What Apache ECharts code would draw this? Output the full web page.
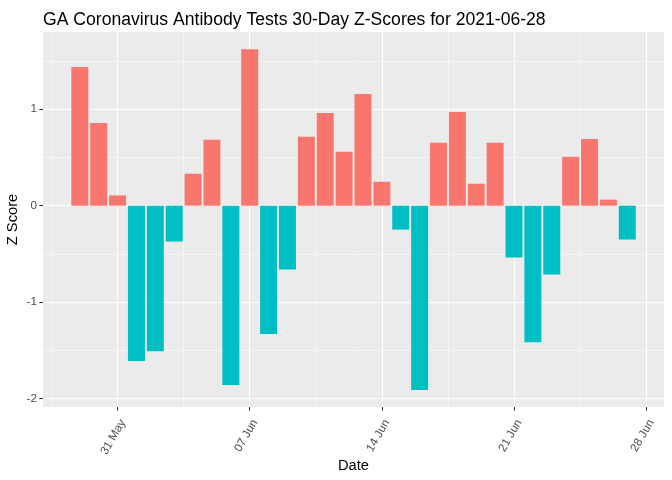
<!DOCTYPE html>
<html>
<head>
<meta charset="utf-8">
<script src="https://cdn.jsdelivr.net/npm/echarts@6/dist/echarts.min.js"></script>
<style>html,body{margin:0;padding:0;background:#fff}#c{width:672px;height:480px}</style>
</head>
<body>
<div id="c"></div>
<script>
const dates = ['2021-05-29','2021-05-30','2021-05-31','2021-06-01','2021-06-02','2021-06-03','2021-06-04','2021-06-05','2021-06-06','2021-06-07','2021-06-08','2021-06-09','2021-06-10','2021-06-11','2021-06-12','2021-06-13','2021-06-14','2021-06-15','2021-06-16','2021-06-17','2021-06-18','2021-06-19','2021-06-20','2021-06-21','2021-06-22','2021-06-23','2021-06-24','2021-06-25','2021-06-26','2021-06-27'];
const zScores = [1.436,0.857,0.106,-1.61,-1.51,-0.372,0.331,0.682,-1.86,1.622,-1.33,-0.661,0.713,0.961,0.558,1.157,0.248,-0.248,-1.911,0.651,0.971,0.227,0.651,-0.537,-1.415,-0.713,0.506,0.692,0.062,-0.351];
const xTickDates = ['2021-05-31','2021-06-07','2021-06-14','2021-06-21','2021-06-28'];
const xMinorDates = ['2021-05-27T12','2021-06-03T12','2021-06-10T12','2021-06-17T12','2021-06-24T12'];
const yTicks = [-2,-1,0,1];
const yMinor = [-1.5,-0.5,0.5,1.5];
const months = ['Jan','Feb','Mar','Apr','May','Jun','Jul','Aug','Sep','Oct','Nov','Dec'];

const DAY = 86400000;
// day number (days since 1970-01-01 UTC)
function dn(s){ const [d,t] = s.split('T'); const [y,m,dd] = d.split('-').map(Number); const h = t ? Number(t) : 0; return (Date.UTC(y,m-1,dd) / DAY) + h/24; }
const xMin = dn('2021-05-27') + 0.05;
const xMax = dn('2021-06-28') + 0.945;
const yMin = -2.087, yMax = 1.8;

const chart = echarts.init(document.getElementById('c'), null, {renderer:'canvas'});
const font = 'Liberation Sans, Arial, sans-serif';
chart.setOption({
  animation: false,
  backgroundColor: '#fff',
  title: {
    text: 'GA Coronavirus Antibody Tests 30-Day Z-Scores for 2021-06-28',
    left: 38, top: 6,
    textStyle: {fontFamily: font, fontSize: 17.6, fontWeight: 'normal', color: '#000'}
  },
  grid: {left: 43, right: 8, top: 32, bottom: 73, show: true, backgroundColor: '#EBEBEB', borderWidth: 0, containLabel: false, outerBoundsMode: 'none'},
  xAxis: [{
    type: 'value', min: xMin, max: xMax, gridIndex: 0,
    axisLine: {show: false, onZero: false},
    axisTick: {show: true, length: 3.7, lineStyle: {color: '#333', width: 1.07}, customValues: xTickDates.map(dn)},
    axisLabel: {
      customValues: xTickDates.map(dn), rotate: 60, margin: 10.5, verticalAlign: 'top', color: '#4D4D4D', fontFamily: font, fontSize: 11.7,
      formatter: v => { const d = new Date(Math.round(v) * DAY); return String(d.getUTCDate()).padStart(2,'0') + ' ' + months[d.getUTCMonth()]; }
    },
    splitLine: {show: true, lineStyle: {color: '#fff', width: 1.07}, customValues: xTickDates.map(dn)},
    name: 'Date', nameLocation: 'middle', nameGap: 51, nameMoveOverlap: false,
    nameTextStyle: {fontFamily: font, fontSize: 14.7, color: '#000'}
  }, {
    type: 'value', min: xMin, max: xMax, gridIndex: 0, position: 'bottom',
    axisLine: {show: false, onZero: false},
    axisTick: {show: false, customValues: xMinorDates.map(dn)},
    axisLabel: {show: false, customValues: xMinorDates.map(dn)},
    splitLine: {show: true, lineStyle: {color: '#fff', width: 0.53}, customValues: xMinorDates.map(dn)}
  }],
  yAxis: [{
    type: 'value', min: yMin, max: yMax, gridIndex: 0,
    axisLine: {show: false, onZero: false},
    axisTick: {show: true, length: 3.7, lineStyle: {color: '#333', width: 1.07}, customValues: yTicks},
    axisLabel: {customValues: yTicks, margin: 6, color: '#4D4D4D', fontFamily: font, fontSize: 11.7},
    splitLine: {show: true, lineStyle: {color: '#fff', width: 1.07}, customValues: yTicks},
    name: 'Z Score', nameLocation: 'middle', nameGap: 23, nameRotate: 90, nameMoveOverlap: false,
    nameTextStyle: {fontFamily: font, fontSize: 14.7, color: '#000'}
  }, {
    type: 'value', min: yMin, max: yMax, gridIndex: 0, position: 'left',
    axisLine: {show: false, onZero: false},
    axisTick: {show: false, customValues: yMinor},
    axisLabel: {show: false, customValues: yMinor},
    splitLine: {show: true, lineStyle: {color: '#fff', width: 0.53}, customValues: yMinor}
  }],
  series: [{
    type: 'bar', xAxisIndex: 0, yAxisIndex: 0,
    barWidth: '90%',
    data: dates.map((d,i) => [dn(d), zScores[i]]),
    itemStyle: {color: p => p.value[1] >= 0 ? '#F8766D' : '#00BFC4'}
  }]
});
</script>
</body>
</html>
